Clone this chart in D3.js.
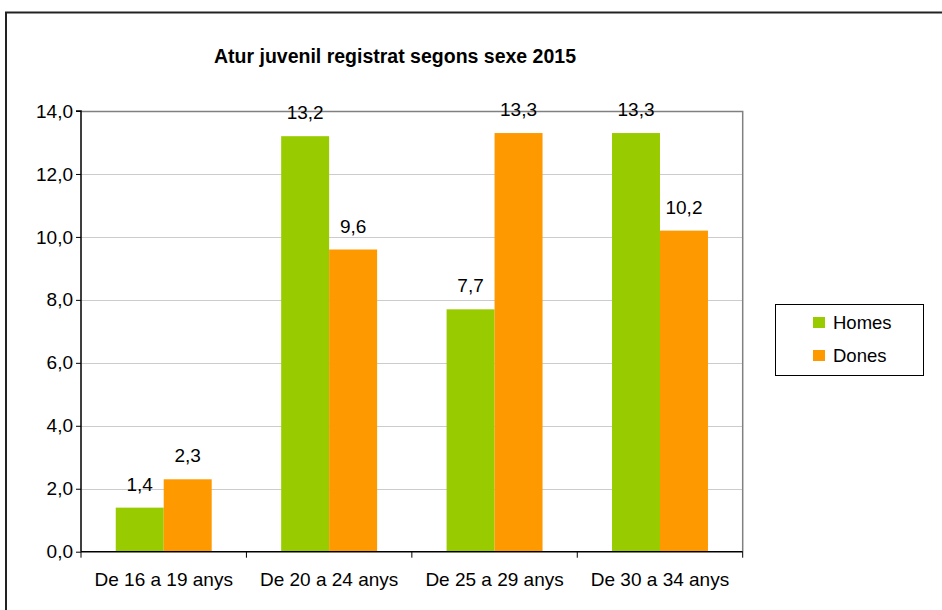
<!DOCTYPE html>
<html>
<head>
<meta charset="utf-8">
<script src="https://cdn.jsdelivr.net/npm/d3@7"></script>
<style>
  html, body { margin: 0; padding: 0; background: #fff; }
  svg { display: block; font-family: "Liberation Sans", Arial, sans-serif; }
</style>
</head>
<body>
<svg id="chart" width="942" height="610"></svg>
<script>
const title = "Atur juvenil registrat segons sexe 2015";
const categories = ["De 16 a 19 anys", "De 20 a 24 anys", "De 25 a 29 anys", "De 30 a 34 anys"];
const seriesNames = ["Homes", "Dones"];
const homes = [1.4, 13.2, 7.7, 13.3];
const dones = [2.3, 9.6, 13.3, 10.2];
const seriesColors = ["#99CC00", "#FF9900"];
const yTickValues = [0, 2, 4, 6, 8, 10, 12, 14];
const yTickLabels = ["0,0", "2,0", "4,0", "6,0", "8,0", "10,0", "12,0", "14,0"];

const seriesValues = [homes, dones];
const fmt = v => v.toFixed(1).replace(".", ",");

const svg = d3.select("#chart");
const plot = { left: 81, right: 742.7, top: 111, bottom: 551.7 };

// outer frame
svg.append("rect")
  .attr("x", 6).attr("y", 12.5)
  .attr("width", 960).attr("height", 620)
  .attr("fill", "none").attr("stroke", "#222").attr("stroke-width", 2);

// title
svg.append("text")
  .attr("x", 395).attr("y", 63)
  .attr("text-anchor", "middle")
  .attr("font-size", 19.5).attr("font-weight", "bold")
  .attr("fill", "#000")
  .text(title);

const x0 = d3.scaleBand().domain(categories)
  .range([plot.left, plot.right]).paddingInner(0.42).paddingOuter(0.21);
const x1 = d3.scaleBand().domain(seriesNames).range([0, x0.bandwidth()]);
const y = d3.scaleLinear().domain([0, 14]).range([plot.bottom, plot.top]);

// gridlines
svg.append("g").selectAll("line")
  .data(yTickValues.filter(v => v > 0 && v < 14))
  .join("line")
  .attr("x1", plot.left).attr("x2", plot.right)
  .attr("y1", d => Math.round(y(d)) + 0.5).attr("y2", d => Math.round(y(d)) + 0.5)
  .attr("stroke", "#cccccc").attr("stroke-width", 1);

// plot area border (top/right gray)
svg.append("path")
  .attr("d", `M${plot.left},${Math.round(plot.top) + 0.5}H${plot.right}V${plot.bottom}`)
  .attr("fill", "none").attr("stroke", "#808080").attr("stroke-width", 1.5);

// bars
const groups = svg.append("g").selectAll("g")
  .data(categories)
  .join("g")
  .attr("transform", c => `translate(${x0(c)},0)`);

groups.selectAll("rect")
  .data((c, i) => seriesNames.map((s, j) => ({ s, j, v: seriesValues[j][i] })))
  .join("rect")
  .attr("x", d => x1(d.s))
  .attr("width", x1.bandwidth())
  .attr("y", d => y(d.v))
  .attr("height", d => y(0) - y(d.v))
  .attr("fill", d => seriesColors[d.j]);

groups.selectAll("text")
  .data((c, i) => seriesNames.map((s, j) => ({ s, j, v: seriesValues[j][i] })))
  .join("text")
  .attr("x", d => x1(d.s) + x1.bandwidth() / 2)
  .attr("y", d => y(d.v) - 17)
  .attr("text-anchor", "middle")
  .attr("font-size", 19)
  .attr("fill", "#000")
  .text(d => fmt(d.v));

// y axis
const yAxis = d3.axisLeft(y)
  .tickValues(yTickValues)
  .tickFormat((d, i) => yTickLabels[i])
  .tickSize(5).tickPadding(3);
const gy = svg.append("g")
  .attr("transform", `translate(${plot.left},0)`)
  .call(yAxis);
gy.select(".domain").attr("stroke", "#000").attr("stroke-width", 1.5).attr("d", `M-5,${plot.top}H0V${plot.bottom}`);
gy.selectAll(".tick line").attr("stroke", "#000");
gy.selectAll(".tick text").attr("font-size", 19).attr("fill", "#000")
  .attr("font-family", "'Liberation Sans', Arial, sans-serif");

// x axis
const xAxis = d3.axisBottom(x0).tickSize(0).tickPadding(21);
const gx = svg.append("g")
  .attr("transform", `translate(0,${plot.bottom})`)
  .call(xAxis);
gx.select(".domain").attr("stroke", "#000").attr("stroke-width", 1.5)
  .attr("d", `M${plot.left},0H${plot.right}`);
gx.selectAll(".tick text").attr("font-size", 19).attr("fill", "#000")
  .attr("font-family", "'Liberation Sans', Arial, sans-serif");

// category boundary ticks
const step = x0.step();
const boundaries = categories.map(c => x0(c) - step * x0.paddingInner() / 2).concat([plot.right]);
gx.append("g").selectAll("line")
  .data(boundaries)
  .join("line")
  .attr("x1", d => d).attr("x2", d => d)
  .attr("y1", 0).attr("y2", 6)
  .attr("stroke", "#000").attr("stroke-width", 1);

// legend
const legend = svg.append("g");
legend.append("rect")
  .attr("x", 775.5).attr("y", 304.5).attr("width", 148).attr("height", 71)
  .attr("fill", "#fff").attr("stroke", "#000").attr("stroke-width", 1);
const li = legend.selectAll("g.item").data(seriesNames).join("g")
  .attr("class", "item")
  .attr("transform", (d, i) => `translate(813,${317 + i * 33})`);
li.append("rect").attr("width", 12).attr("height", 11)
  .attr("fill", (d, i) => seriesColors[i]);
li.append("text").attr("x", 20).attr("y", 12)
  .attr("font-size", 18.5).attr("fill", "#000")
  .text(d => d);
</script>
</body>
</html>
